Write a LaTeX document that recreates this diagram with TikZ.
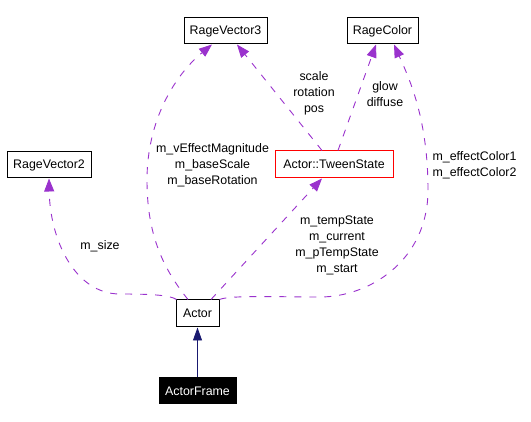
\documentclass[tikz,border=0pt]{standalone}
\usepackage{fontspec}
\setmainfont{Liberation Sans}
\usetikzlibrary{arrows.meta,calc}
\definecolor{edgepurple}{RGB}{154,50,205}
\definecolor{navyedge}{RGB}{25,25,112}
\begin{document}
\begin{tikzpicture}[x=1pt,y=-1pt,
  every node/.style={font=\fontsize{12.4}{16}\selectfont},
  cls/.style={draw=black,line width=1pt,fill=white,inner sep=0pt,minimum height=26pt,align=center},
  usage/.style={draw=edgepurple,line width=0.9pt,dash pattern=on 7pt off 8pt,
    -{Triangle[length=13pt,width=10pt,fill=edgepurple]}},
  inherit/.style={draw=navyedge,line width=0.9pt,-{Triangle[length=13pt,width=9pt,fill=navyedge]}},
  lbl/.style={align=center,inner sep=0pt}]
\useasboundingbox (0,0) rectangle (531,422);

\node[cls,minimum width=83pt] (rv3) at (225.5,31) {RageVector3};
\node[cls,minimum width=71pt] (rc) at (382.5,31) {RageColor};
\node[cls,minimum width=84pt] (rv2) at (49,165) {RageVector2};
\node[cls,draw=red,minimum width=118pt,minimum height=27pt] (ts) at (334,164.5) {Actor::TweenState};
\node[cls,minimum width=43pt,minimum height=27pt] (actor) at (197.5,313.5) {Actor};
\node[cls,fill=black,text=white,minimum width=77pt] (af) at (197.5,391) {ActorFrame};

% inheritance
\draw[inherit] (af.north) -- (actor.south);

% Actor -> RageVector2
\draw[usage] ($(actor.north west)+(1,0)$) .. controls (170,295) and (150,294) .. (120,294)
  .. controls (75,294) and (50,240) .. (rv2.south);
% Actor -> RageVector3
\draw[usage] ($(actor.north)+(-9.5,0)$) .. controls (160,265) and (147,230) .. (147,180)
  .. controls (147,120) and (175,75) .. ($(rv3.south)+(-13.5,0)$);
% Actor -> TweenState
\draw[usage] ($(actor.north)+(13.5,0)$) -- ($(ts.south)+(-12,0)$);
% Actor -> RageColor
\draw[usage] (actor.north east) .. controls (230,295) and (280,297) .. (320,297)
  .. controls (370,297) and (428,260) .. (428,190)
  .. controls (428,120) and (410,80) .. ($(rc.south)+(11.5,0)$);
% TweenState -> RageVector3
\draw[usage] ($(ts.north)+(-12,0)$) -- ($(rv3.south)+(11.5,0)$);
% TweenState -> RageColor
\draw[usage] ($(ts.north)+(4,0)$) -- ($(rc.south)+(-6.5,0)$);

% labels
\node[lbl] (l1) at (100,246) {m\_size};
\node[lbl] (l2) at (212.5,165.5) {m\_vEffectMagnitude\\m\_baseScale\\m\_baseRotation};
\node[lbl] (l3) at (314,93.5) {scale\\rotation\\pos};
\node[lbl] (l4) at (385,94) {glow\\diffuse};
\node[lbl] (l5) at (474.5,165.5) {m\_effectColor1\\m\_effectColor2};
\node[lbl] (l6) at (337,245.5) {m\_tempState\\m\_current\\m\_pTempState\\m\_start};
\end{tikzpicture}
\end{document}
